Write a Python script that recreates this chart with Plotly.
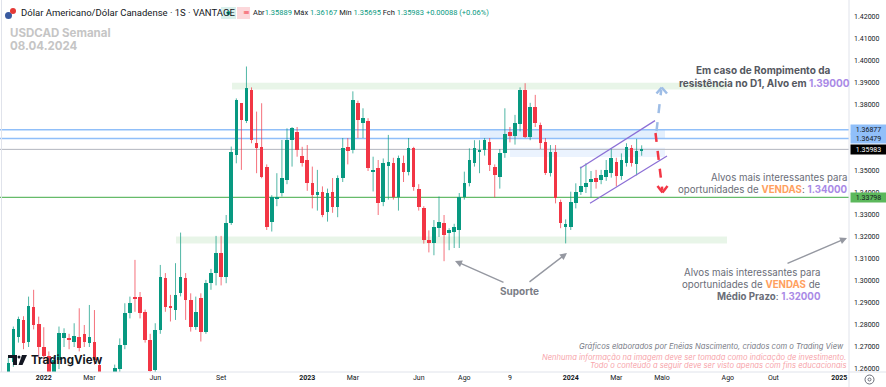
import plotly.graph_objects as go
import pandas as pd

# ---------------- data (weekly USDCAD) ----------------
week_start = "2021-11-15"
n_weeks = 126
opens = [1.2560,1.2630,1.2745,1.2823,1.2725,1.2884,1.2805,1.2702,1.2660,1.2580,
         1.2641,1.2740,1.2739,1.2724,1.2747,1.2759,1.2717,1.2724,1.2618,1.2500,
         1.2490,1.2560,1.2600,1.2709,1.2853,1.2925,1.2929,1.2860,1.2732,1.2595,
         1.2778,1.3013,1.2884,1.2869,1.2944,1.3013,1.2914,1.2793,1.2921,1.2770,
         1.2990,1.3035,1.3126,1.3020,1.3262,1.3573,1.3808,1.3726,1.3868,1.3626,
         1.3608,1.3520,1.3270,1.3377,1.3399,1.3460,1.3641,1.3676,1.3568,1.3550,
         1.3444,1.3390,1.3405,1.3315,1.3406,1.3338,1.3467,1.3608,1.3596,1.3808,
         1.3717,1.3726,1.3497,1.3512,1.3361,1.3523,1.3535,1.3384,1.3538,1.3497,
         1.3603,1.3420,1.3330,1.3187,1.3175,1.3240,1.3262,1.3217,1.3225,1.3232,
         1.3384,1.3444,1.3535,1.3588,1.3596,1.3632,1.3520,1.3475,1.3580,1.3676,
         1.3658,1.3714,1.3868,1.3653,1.3793,1.3709,1.3633,1.3489,1.3588,1.3361,
         1.3247,1.3247,1.3353,1.3406,1.3429,1.3452,1.3470,1.3459,1.3474,1.3489,
         1.3543,1.3478,1.3535,1.3603,1.3530,1.35889]
highs = [1.2650,1.2793,1.2838,1.2840,1.2929,1.2960,1.2838,1.2790,1.2680,1.2660,
         1.2793,1.2785,1.2760,1.2808,1.2876,1.2800,1.2891,1.2868,1.2640,1.2540,
         1.2580,1.2620,1.2739,1.2899,1.2929,1.3096,1.2950,1.2870,1.2760,1.2808,
         1.3073,1.3036,1.2937,1.3081,1.3220,1.3036,1.2944,1.2929,1.2944,1.3005,
         1.3055,1.3205,1.3205,1.3300,1.3611,1.3830,1.3808,1.3975,1.3880,1.3770,
         1.3808,1.3530,1.3390,1.3490,1.3641,1.3694,1.3700,1.3700,1.3610,1.3618,
         1.3520,1.3505,1.3430,1.3420,1.3468,1.3480,1.3650,1.3650,1.3862,1.3820,
         1.3785,1.3740,1.3565,1.3550,1.3557,1.3664,1.3560,1.3570,1.3570,1.3650,
         1.3610,1.3440,1.3340,1.3230,1.3277,1.3384,1.3300,1.3240,1.3260,1.3400,
         1.3497,1.3603,1.3640,1.3640,1.3650,1.3650,1.3530,1.3600,1.3785,1.3700,
         1.3755,1.3880,1.3899,1.3810,1.3846,1.3720,1.3650,1.3618,1.3618,1.3370,
         1.3280,1.3406,1.3444,1.3520,1.3535,1.3500,1.3505,1.3505,1.3550,1.3603,
         1.3560,1.3580,1.3626,1.3618,1.3646,1.36167]
lows  = [1.2530,1.2610,1.2720,1.2690,1.2700,1.2780,1.2650,1.2640,1.2450,1.2560,
         1.2600,1.2700,1.2690,1.2700,1.2680,1.2700,1.2700,1.2620,1.2470,1.2400,
         1.2400,1.2530,1.2570,1.2690,1.2830,1.2860,1.2830,1.2720,1.2520,1.2570,
         1.2760,1.2860,1.2816,1.2823,1.2930,1.2823,1.2770,1.2778,1.2725,1.2760,
         1.2960,1.2980,1.2980,1.2990,1.3255,1.3535,1.3505,1.3718,1.3626,1.3490,
         1.3467,1.3232,1.3225,1.3340,1.3384,1.3440,1.3520,1.3565,1.3520,1.3410,
         1.3330,1.3320,1.3290,1.3270,1.3310,1.3290,1.3450,1.3530,1.3580,1.3650,
         1.3650,1.3500,1.3407,1.3300,1.3340,1.3370,1.3370,1.3320,1.3450,1.3480,
         1.3410,1.3320,1.3170,1.3130,1.3117,1.3200,1.3090,1.3140,1.3150,1.3150,
         1.3370,1.3430,1.3520,1.3490,1.3570,1.3500,1.3380,1.3420,1.3560,1.3630,
         1.3620,1.3680,1.3650,1.3640,1.3700,1.3600,1.3482,1.3475,1.3353,1.3240,
         1.3171,1.3232,1.3330,1.3391,1.3400,1.3380,1.3420,1.3440,1.3455,1.3470,
         1.3430,1.3460,1.3520,1.3520,1.3480,1.35695]
closes = [1.2626,1.2781,1.2827,1.2717,1.2888,1.2800,1.2702,1.2660,1.2580,1.2640,
          1.2762,1.2762,1.2732,1.2750,1.2694,1.2724,1.2747,1.2641,1.2500,1.2490,
          1.2560,1.2603,1.2709,1.2853,1.2899,1.2918,1.2853,1.2732,1.2590,1.2778,
          1.3020,1.2884,1.2876,1.2937,1.3020,1.2914,1.2793,1.2861,1.2770,1.2990,
          1.3035,1.3126,1.3020,1.3262,1.3588,1.3823,1.3732,1.3876,1.3641,1.3603,
          1.3475,1.3247,1.3384,1.3384,1.3467,1.3641,1.3694,1.3596,1.3538,1.3444,
          1.3390,1.3405,1.3300,1.3399,1.3338,1.3467,1.3603,1.3593,1.3823,1.3732,
          1.3739,1.3512,1.3506,1.3353,1.3535,1.3543,1.3384,1.3558,1.3497,1.3603,
          1.3429,1.3338,1.3187,1.3175,1.3247,1.3270,1.3209,1.3232,1.3247,1.3384,
          1.3444,1.3550,1.3603,1.3596,1.3640,1.3528,1.3482,1.3581,1.3667,1.3658,
          1.3717,1.3868,1.3653,1.3793,1.3717,1.3626,1.3489,1.3588,1.3376,1.3262,
          1.3258,1.3361,1.3406,1.3432,1.3444,1.3464,1.3452,1.3482,1.3505,1.3558,
          1.3478,1.3550,1.3611,1.3535,1.3589,1.35983]

# key levels
lvl_blue_hi = 1.36877
lvl_blue_lo = 1.36479
lvl_last = 1.35983
lvl_green = 1.33798
res_zone = (1.3871, 1.3901)
sup_zone = (1.3171, 1.3202)
zone_b = (1.3564, 1.3606)
chan_upper = (1.3512, 1.3729)
chan_lower = (1.3353, 1.3568)

# 1.37000 and 1.36000 are hidden behind the price tags in the original
ytick_vals = [1.42, 1.41, 1.40, 1.39, 1.38, 1.35, 1.34, 1.33, 1.32,
              1.31, 1.30, 1.29, 1.28, 1.27, 1.26]
xtick_dates = ["2022-01-03", "2022-03-07", "2022-06-06", "2022-09-05", "2023-01-02",
               "2023-03-06", "2023-06-05", "2023-08-07", "2023-10-09", "2024-01-01",
               "2024-03-04", "2024-05-06", "2024-08-05", "2024-10-07", "2025-01-06"]
xtick_text = ["<b>2022</b>", "Mar", "Jun", "Set", "<b>2023</b>", "Mar", "Jun", "Ago", "9",
              "<b>2024</b>", "Mar", "Maio", "Ago", "Out", "<b>2025</b>"]

# ---------------- layout geometry ----------------
W, H = 849, 372          # plot area in px
FIG_W, FIG_H = 886, 387
px_per_day = 5.067 / 7.0
first_x_px = 8.3

def px(x):
    return x / W

def py(y):
    return 1 - y / H

dates = pd.date_range(week_start, periods=n_weeks, freq="7D")
t0 = pd.Timestamp(week_start)
x_left = t0 - pd.Timedelta(days=first_x_px / px_per_day)
x_right = t0 + pd.Timedelta(days=(W - first_x_px) / px_per_day)
y_top = 1.42 + 17 / 2200
y_bot = 1.42 - (H - 17) / 2200

GREEN = "#089981"
RED = "#f23645"

fig = go.Figure()

# wicks
for col, cond in ((GREEN, lambda o, c: c >= o), (RED, lambda o, c: c < o)):
    wx, wy = [], []
    for d, o, h, l, c in zip(dates, opens, highs, lows, closes):
        if cond(o, c):
            wx += [d, d, None]
            wy += [l, h, None]
    fig.add_trace(go.Scatter(x=wx, y=wy, mode="lines", line=dict(color=col, width=1),
                             opacity=0.7, hoverinfo="skip", showlegend=False))

# bodies
body_h = [max(abs(c - o), 0.00005) * (1 if c >= o else -1) for o, c in zip(opens, closes)]
body_col = [GREEN if c >= o else RED for o, c in zip(opens, closes)]
fig.add_trace(go.Bar(x=dates, y=body_h, base=opens,
                     width=3.6 / px_per_day * 86400000,
                     marker=dict(color=body_col, line=dict(width=0)),
                     showlegend=False, hoverinfo="skip"))

shapes = []
# zones
shapes.append(dict(type="rect", xref="paper", yref="y", x0=px(232), x1=px(727),
                   y0=res_zone[0], y1=res_zone[1], fillcolor="rgba(76,175,80,0.13)",
                   line_width=0, layer="below"))
shapes.append(dict(type="rect", xref="paper", yref="y", x0=px(176), x1=px(727),
                   y0=sup_zone[0], y1=sup_zone[1], fillcolor="rgba(76,175,80,0.13)",
                   line_width=0, layer="below"))
shapes.append(dict(type="rect", xref="paper", yref="y", x0=px(480), x1=px(665),
                   y0=lvl_blue_lo, y1=lvl_blue_hi, fillcolor="rgba(144,191,249,0.25)",
                   line_width=0, layer="below"))
shapes.append(dict(type="rect", xref="paper", yref="y", x0=px(510), x1=px(665),
                   y0=zone_b[0], y1=zone_b[1], fillcolor="rgba(144,191,249,0.18)",
                   line_width=0, layer="below"))
# horizontal lines
for lv, colr, wd in ((lvl_blue_hi, "#90bff9", 1.5), (lvl_blue_lo, "#90bff9", 1.5),
                     (lvl_last, "#b2b5be", 1), (lvl_green, "#66bb6a", 1.3)):
    shapes.append(dict(type="line", xref="paper", yref="y", x0=0, x1=1, y0=lv, y1=lv,
                       line=dict(color=colr, width=wd), layer="below"))
# channel
shapes.append(dict(type="line", xref="paper", yref="y", x0=px(580), x1=px(655),
                   y0=chan_upper[0], y1=chan_upper[1], line=dict(color="#8c6fd6", width=1.2)))
shapes.append(dict(type="line", xref="paper", yref="y", x0=px(590), x1=px(667),
                   y0=chan_lower[0], y1=chan_lower[1], line=dict(color="#8c6fd6", width=1.2)))

# dashed arrows
def seg(x0, y0, x1, y1, color, width, dash="solid"):
    return dict(type="line", xref="paper", yref="paper", x0=px(x0), y0=py(y0),
                x1=px(x1), y1=py(y1), line=dict(color=color, width=width, dash=dash))

BLUE_A = "#9ebde6"
shapes.append(seg(656.5, 131, 661.2, 90, BLUE_A, 2.5, "dash"))
shapes.append(seg(656.5, 93.5, 661.7, 87.5, BLUE_A, 2.5))
shapes.append(seg(661.7, 87.5, 667, 93.5, BLUE_A, 2.5))
shapes.append(seg(655.5, 133, 662.3, 190, RED, 2.5, "dash"))
shapes.append(seg(657.5, 186, 662.5, 192.5, RED, 2.5))
shapes.append(seg(662.5, 192.5, 667.5, 186, RED, 2.5))

# frame lines
shapes.append(dict(type="line", xref="paper", yref="paper", x0=0, x1=FIG_W / W, y0=0, y1=0,
                   line=dict(color="#e0e3eb", width=1)))
shapes.append(dict(type="line", xref="paper", yref="paper", x0=1, x1=1, y0=py(FIG_H), y1=1,
                   line=dict(color="#e0e3eb", width=1)))
shapes.append(dict(type="line", xref="paper", yref="paper", x0=px(1.5), x1=px(1.5), y0=0, y1=1,
                   line=dict(color="#e0e3eb", width=1)))

# header badges
shapes.append(dict(type="rect", xref="paper", yref="paper", x0=px(221), x1=px(236),
                   y0=py(19), y1=py(7), fillcolor="rgba(8,153,129,0.15)", line_width=0))
shapes.append(dict(type="circle", xref="paper", yref="paper", x0=px(226.5), x1=px(230.5),
                   y0=py(15), y1=py(11), fillcolor=GREEN, line_width=0))
shapes.append(dict(type="rect", xref="paper", yref="paper", x0=px(237), x1=px(250),
                   y0=py(19), y1=py(7), fillcolor="rgba(242,54,69,0.2)", line_width=0))
# flag icon
shapes.append(dict(type="circle", xref="paper", yref="paper", x0=px(5), x1=px(12),
                   y0=py(19), y1=py(12), fillcolor="#3a5ba0", line_width=0))
shapes.append(dict(type="circle", xref="paper", yref="paper", x0=px(10), x1=px(16),
                   y0=py(14), y1=py(8), fillcolor="#e53935", line_width=0))

# TradingView logo mark
def path(points):
    s = "M " + " L ".join(f"{px(a):.5f},{py(b):.5f}" for a, b in points) + " Z"
    return s

shapes.append(dict(type="path", xref="paper", yref="paper",
                   path=path([(8, 355), (17, 355), (17, 365), (13, 365), (13, 358), (8, 358)]),
                   fillcolor="#131722", line_width=0))
shapes.append(dict(type="circle", xref="paper", yref="paper", x0=px(17.5), x1=px(20.5),
                   y0=py(358.5), y1=py(355.5), fillcolor="#131722", line_width=0))
shapes.append(dict(type="path", xref="paper", yref="paper",
                   path=path([(22, 355), (27, 355), (22.5, 365), (18.5, 365)]),
                   fillcolor="#131722", line_width=0))
# settings icon
shapes.append(dict(type="circle", xref="paper", yref="paper", x0=px(865), x1=px(874),
                   y0=py(384), y1=py(375), line=dict(color="#6a6d78", width=1)))
shapes.append(dict(type="circle", xref="paper", yref="paper", x0=px(868), x1=px(871),
                   y0=py(381), y1=py(378), line=dict(color="#6a6d78", width=1)))

ann = []
def text(x, y, t, size, color="#5d606b", xanchor="left", font="Inter", **kw):
    ann.append(dict(xref="paper", yref="paper", x=px(x), y=py(y), text=t, showarrow=False,
                    xanchor=xanchor, yanchor="middle", font=dict(size=size, color=color, family=font),
                    **kw))

PURPLE = "#a98ae6"
ORANGE = "#ffa05e"

text(19, 13, "Dólar Americano/Dólar Canadense · 1S · VANTAGE", 9.5, "#131722", font="Roboto")
text(240.5, 12.5, "≡", 8, RED, font="DejaVu Sans")
g = "#089981"
text(251, 13, f"Abr<span style='color:{g}'>1.35889</span> Máx <span style='color:{g}'>1.36167</span> "
     f"Mín <span style='color:{g}'>1.35695</span> Fch <span style='color:{g}'>1.35983</span> "
     f"<span style='color:{g}'>+0.00088 (+0.06%)</span>", 7.5, "#131722", font="Roboto")
text(8, 32.5, "<b>USDCAD Semanal</b>", 11.5, "#c5c5c5")
text(8, 45.5, "<b>08.04.2024</b>", 11.5, "#c5c5c5")

text(763, 70, "<b>Em caso de Rompimento da</b>", 10, "#55585f", xanchor="center")
text(764, 82.5, f"<b>resistência no D1, Alvo em <span style='color:{PURPLE}'>1.39000</span></b>",
     10, "#55585f", xanchor="center")

text(850, 177, "Alvos mais interessantes para", 9.7, "#6a6d78", xanchor="right")
text(850, 189, f"oportunidades de <b><span style='color:{ORANGE}'>VENDAS</span></b>: "
     f"<b><span style='color:{PURPLE}'>1.34000</span></b>", 9.7, "#6a6d78", xanchor="right")

text(823, 272, "Alvos mais interessantes para", 9.7, "#6a6d78", xanchor="right")
text(823, 284, f"oportunidades de <b><span style='color:{ORANGE}'>VENDAS</span></b> de",
     9.7, "#6a6d78", xanchor="right")
text(823, 296, f"<b>Médio Prazo</b>: <b><span style='color:{PURPLE}'>1.32000</span></b>",
     9.7, "#6a6d78", xanchor="right")

text(519, 291, "<b>Suporte</b>", 10, "#7a7d86", xanchor="center")

text(846, 346.5, "<i>Gráficos elaborados por Enéias Nascimento, criados com o Trading View</i>",
     7.6, "#787b86", xanchor="right")
text(848, 357, "<i>Nenhuma informação na imagem deve ser tomada como indicação de investimento.</i>",
     7.6, "#f7a5ab", xanchor="right")
text(848, 365.5, "<i>Todo o conteúdo a seguir deve ser visto apenas com fins educacionais</i>",
     7.6, "#f7a5ab", xanchor="right")

text(29, 360, "<b>TradingView</b>", 11.5, "#131722")

# gray arrows
def arrow(xh, yh, xt, yt):
    ann.append(dict(xref="paper", yref="paper", x=px(xh), y=py(yh), ax=xt - xh, ay=yt - yh,
                    axref="pixel", ayref="pixel", text="", showarrow=True, arrowhead=2,
                    arrowsize=1, arrowwidth=1.4, arrowcolor="#9598a1"))

arrow(455, 261, 505, 283)
arrow(567, 253, 528, 283)
arrow(847, 238, 786, 264)

# price tags on the axis
for lv, bg, fc in ((lvl_blue_hi, "#90bff9", "#131722"), (lvl_blue_lo, "#90bff9", "#131722"),
                   (lvl_last, "#000000", "#ffffff"), (lvl_green, "#5cb85c", "#131722")):
    ann.append(dict(xref="paper", yref="y", x=1, y=lv, xanchor="left", yanchor="middle",
                    text=f"{lv:.5f}", showarrow=False, bgcolor=bg, width=34, height=8,
                    borderpad=0.5, xshift=1, font=dict(size=7, color=fc, family="Roboto")))

fig.update_layout(
    width=FIG_W, height=FIG_H,
    margin=dict(l=0, r=FIG_W - W, t=0, b=FIG_H - H),
    paper_bgcolor="white", plot_bgcolor="white",
    barmode="overlay", bargap=0,
    showlegend=False,
    shapes=shapes, annotations=ann,
    xaxis=dict(type="date", range=[x_left, x_right], showgrid=False, zeroline=False,
               tickvals=xtick_dates, ticktext=xtick_text, ticks="",
               tickfont=dict(size=7, color="#131722", family="Roboto"), fixedrange=True),
    yaxis=dict(side="right", range=[y_bot, y_top], showgrid=False, zeroline=False,
               tickvals=ytick_vals, tickformat=".5f", ticks="", ticklabelstandoff=4,
               tickfont=dict(size=7, color="#131722", family="Roboto"), fixedrange=True),
)

fig.write_html("out.html", config={"displayModeBar": False},
               post_script="document.body.style.margin='0';document.body.style.overflow='hidden';")
